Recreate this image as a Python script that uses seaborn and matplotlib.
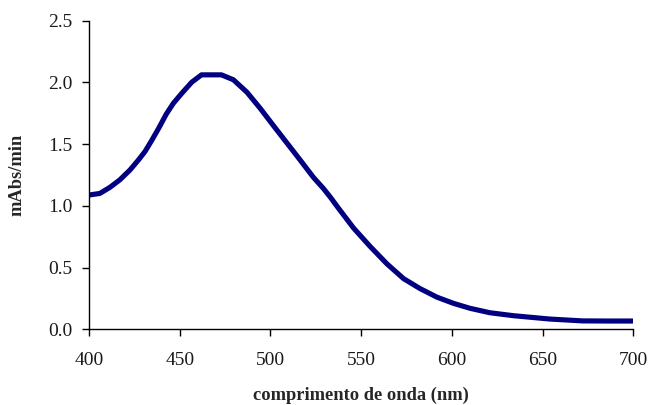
import matplotlib
matplotlib.use("Agg")
import matplotlib.pyplot as plt
import seaborn as sns
import pandas as pd

wavelength = [400, 406, 411.6, 417, 422.6, 427.2, 430.9, 434.6, 438.5, 442.5, 446.5, 451.1,
              456.6, 462, 467, 473, 479.6, 487, 494.3, 501.6, 509, 516.4, 523.7, 529.2,
              533, 537, 545.8, 555, 564.2, 573.4, 582.4, 591.8, 600.9, 610, 621, 634,
              654, 672, 686, 700]
mabs = [1.087, 1.10, 1.15, 1.21, 1.29, 1.37, 1.44, 1.53, 1.63, 1.74, 1.83, 1.91,
        2.00, 2.06, 2.06, 2.06, 2.02, 1.92, 1.79, 1.65, 1.51, 1.37, 1.23, 1.14,
        1.07, 0.99, 0.82, 0.67, 0.53, 0.41, 0.33, 0.26, 0.21, 0.17, 0.134, 0.11,
        0.083, 0.068, 0.067, 0.067]
xticks = [400, 450, 500, 550, 600, 650, 700]
yticks = [0.0, 0.5, 1.0, 1.5, 2.0, 2.5]

df = pd.DataFrame({"nm": wavelength, "mAbs": mabs})

sns.set_theme(style="ticks")
plt.rcParams["font.family"] = ["Liberation Serif", "DejaVu Serif"]

fig = plt.figure(figsize=(6.48, 4.05), dpi=100)
ax = fig.add_axes([89/648, (405-329.3)/405, (633.3-89)/648, (329.3-20.5)/405])
sns.lineplot(data=df, x="nm", y="mAbs", ax=ax, color="#000080", linewidth=3.7,
             solid_capstyle="round", solid_joinstyle="round")
ax.set_xlim(400, 700)
ax.set_ylim(0, 2.5)
ax.set_xticks(xticks)
ax.set_xticklabels([str(t) for t in xticks])
ax.set_yticks(yticks)
ax.set_yticklabels([f"{t:.1f}" for t in yticks])
ax.tick_params(axis="x", direction="out", length=5, width=1, colors="black",
               labelsize=14, pad=11, labelcolor="#1a1a1a")
ax.tick_params(axis="y", direction="out", length=5, width=1, colors="black",
               labelsize=14, pad=7, labelcolor="#1a1a1a")
for s in ["top", "right"]:
    ax.spines[s].set_visible(False)
for s in ["left", "bottom"]:
    ax.spines[s].set_color("black")
    ax.spines[s].set_linewidth(1)
ax.set_xlabel("comprimento de onda (nm)", fontsize=13.3, fontweight="bold", labelpad=13)
ax.set_ylabel("mAbs/min", fontsize=13.3, fontweight="bold", labelpad=16)
fig.savefig("out.png", dpi=100)
